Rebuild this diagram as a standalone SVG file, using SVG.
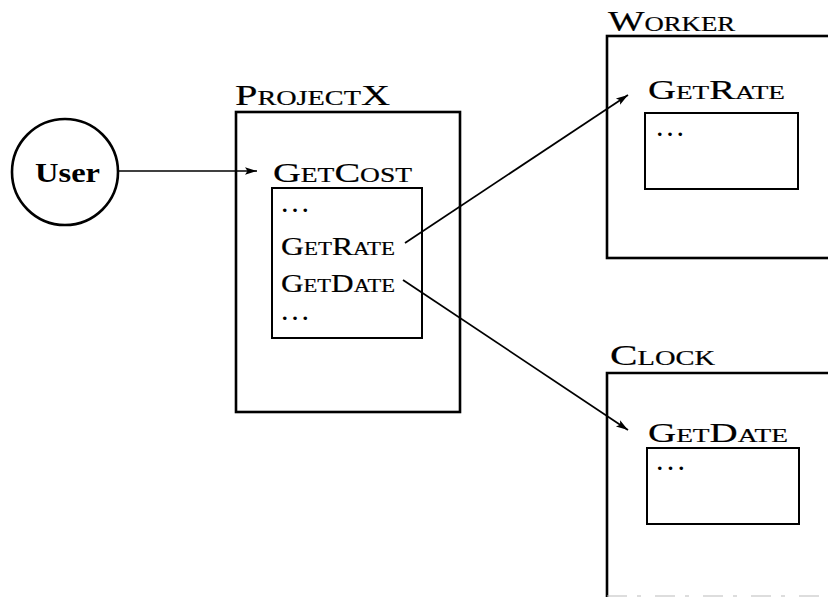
<svg xmlns="http://www.w3.org/2000/svg" width="828" height="597" viewBox="0 0 828 597">
  <style>
    .box { fill: none; stroke: #000; stroke-width: 2.6; }
    .inner { fill: none; stroke: #000; stroke-width: 2; }
    .wire { fill: none; stroke: #000; stroke-width: 1.7; }
    .sc { font-family: "Liberation Serif", "DejaVu Serif", serif; font-variant: small-caps; fill: #000; stroke: #000; stroke-width: 0.2; }
    .dots { font-family: "Liberation Serif", "DejaVu Serif", serif; font-size: 22px; font-weight: bold; fill: #000; }
    .user { font-family: "Liberation Serif", "DejaVu Serif", serif; font-weight: bold; font-size: 28px; fill: #000; }
  </style>
  <defs>
    <marker id="arrow" markerUnits="userSpaceOnUse" markerWidth="14" markerHeight="10" refX="12" refY="5" orient="auto">
      <path d="M0,1.2 L12,5 L0,8.8 L2.5,5 z" fill="#000"/>
    </marker>
  </defs>

  <rect width="828" height="597" fill="#fff"/>

  <!-- the calling actor -->
  <g id="user">
    <circle cx="65" cy="172" r="53" class="box" stroke-width="2.2"/>
    <text x="35" y="182" class="user" textLength="65" lengthAdjust="spacingAndGlyphs">User</text>
  </g>

  <!-- ProjectX module with its GetCost routine -->
  <g id="projectx">
    <text x="235" y="105" class="sc" font-size="30" textLength="155" lengthAdjust="spacingAndGlyphs">ProjectX</text>
    <rect x="236" y="112" width="224" height="300" class="box"/>
    <text x="273" y="182" class="sc" font-size="28" textLength="139" lengthAdjust="spacingAndGlyphs">GetCost</text>
    <rect x="272" y="188" width="150" height="150" class="inner"/>
    <text x="282" y="212" class="dots" textLength="26" lengthAdjust="spacing">. . .</text>
    <text x="281" y="255" class="sc" font-size="25" textLength="114" lengthAdjust="spacingAndGlyphs">GetRate</text>
    <text x="281" y="292" class="sc" font-size="25" textLength="114" lengthAdjust="spacingAndGlyphs">GetDate</text>
    <text x="282" y="320" class="dots" textLength="26" lengthAdjust="spacing">. . .</text>
  </g>

  <!-- Worker module -->
  <g id="worker">
    <text x="608" y="31" class="sc" font-size="29" textLength="127" lengthAdjust="spacingAndGlyphs">Worker</text>
    <rect x="607" y="36" width="240" height="222" class="box"/>
    <text x="648" y="99" class="sc" font-size="27" textLength="137" lengthAdjust="spacingAndGlyphs">GetRate</text>
    <rect x="645" y="113" width="153" height="76" class="inner"/>
    <text x="657" y="136" class="dots" textLength="26" lengthAdjust="spacing">. . .</text>
  </g>

  <!-- Clock module -->
  <g id="clock">
    <text x="610" y="365" class="sc" font-size="29" textLength="105" lengthAdjust="spacingAndGlyphs">Clock</text>
    <path d="M840,373 H607 V597" class="box"/>
    <line x1="607" y1="596" x2="828" y2="596" stroke="#bbb" stroke-width="1" stroke-dasharray="20 10 4 14"/>
    <text x="648" y="442" class="sc" font-size="27" textLength="140" lengthAdjust="spacingAndGlyphs">GetDate</text>
    <rect x="647" y="448" width="152" height="76" class="inner"/>
    <text x="657" y="470" class="dots" textLength="27" lengthAdjust="spacing">. . .</text>
  </g>

  <!-- calls between modules -->
  <g id="connectors">
    <line x1="118" y1="171" x2="257" y2="171" class="wire" marker-end="url(#arrow)"/>
    <line x1="405" y1="243" x2="628" y2="95" class="wire" marker-end="url(#arrow)"/>
    <line x1="403" y1="280" x2="628" y2="430" class="wire" marker-end="url(#arrow)"/>
  </g>
</svg>
